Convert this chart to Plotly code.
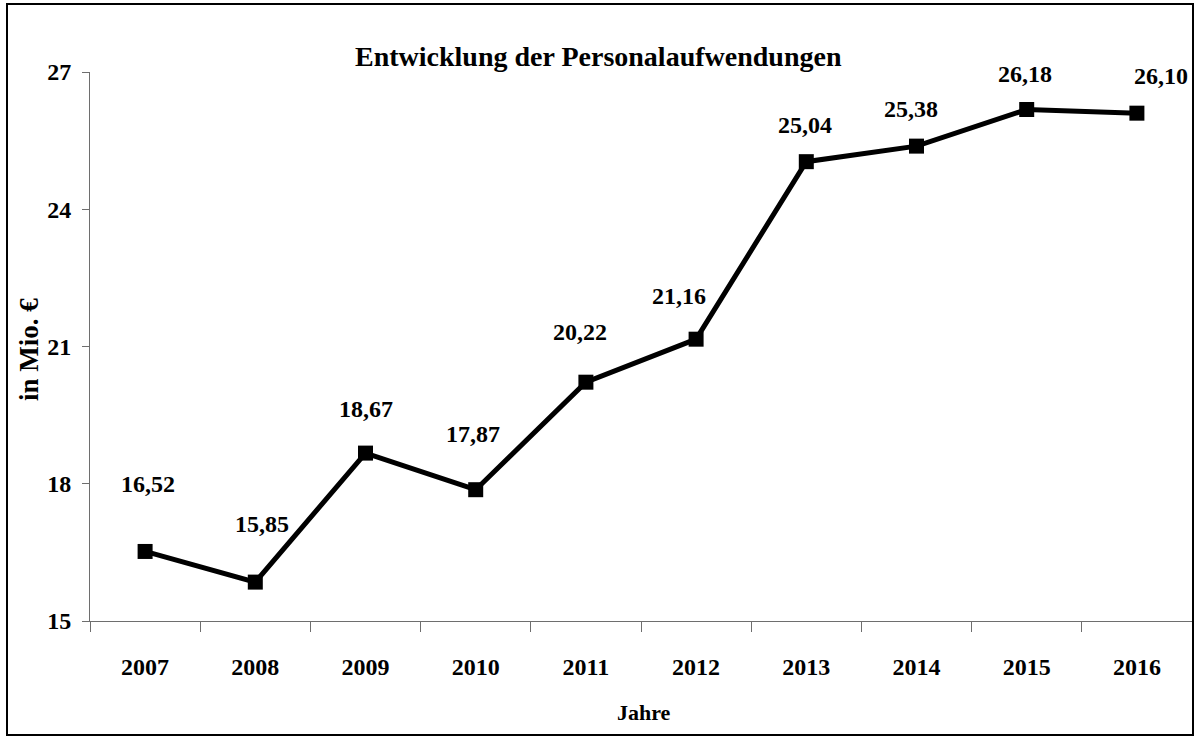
import plotly.graph_objects as go

years = ["2007", "2008", "2009", "2010", "2011", "2012", "2013", "2014", "2015", "2016"]
values = [16.52, 15.85, 18.67, 17.87, 20.22, 21.16, 25.04, 25.38, 26.18, 26.10]
y_ticks = [15, 18, 21, 24, 27]

# label pixel offsets (style only)
label_dx = [3, 7, 0, -3, -6, -17, -1, -6, -2, 24]
label_dy = [67, 58, 44, 56, 50, 43, 37, 37, 36, 37]

FONT = "Liberation Serif"
AXC = "#6e6e6e"

fig = go.Figure()
fig.add_trace(go.Scatter(
    x=years, y=values, mode="lines+markers",
    line=dict(color="black", width=5),
    marker=dict(symbol="square", size=15, color="black"),
    showlegend=False, hoverinfo="skip",
))

for i, (v, dx, dy) in enumerate(zip(values, label_dx, label_dy)):
    fig.add_annotation(
        x=i, y=v, xref="x", yref="y", showarrow=False,
        text=f"{v:.2f}".replace(".", ","),
        xshift=dx, yshift=dy,
        font=dict(family=FONT, size=24, color="black", weight="bold"),
    )

L, R, T, B = 90, 2, 72, 116
W, H = 1194, 737
pw, ph = W - L - R, H - T - B

def px(x):
    return (x - L) / pw

def py(y):
    return (H - B - y) / ph

# title
fig.add_annotation(
    x=px(598), y=py(57), xref="paper", yref="paper", showarrow=False,
    text="Entwicklung der Personalaufwendungen",
    font=dict(family=FONT, size=28, color="black", weight="bold"),
    xanchor="center", yanchor="middle",
)
# y title
fig.add_annotation(
    x=px(29), y=py(350), xref="paper", yref="paper", showarrow=False,
    text="in Mio. €", textangle=-90,
    font=dict(family=FONT, size=27, color="black", weight="bold"),
    xanchor="center", yanchor="middle",
)
# x title
fig.add_annotation(
    x=px(644), y=py(712), xref="paper", yref="paper", showarrow=False,
    text="Jahre",
    font=dict(family=FONT, size=22, color="black", weight="bold"),
    xanchor="center", yanchor="middle",
)

# outer border
fig.add_shape(
    type="rect", xref="paper", yref="paper",
    x0=px(7), x1=px(1193), y0=py(735), y1=py(4),
    line=dict(color="black", width=2), fillcolor="rgba(0,0,0,0)", layer="above",
)

fig.update_layout(
    width=W, height=H,
    margin=dict(l=L, r=R, t=T, b=B, pad=0),
    paper_bgcolor="white", plot_bgcolor="white",
    font=dict(family=FONT, color="black"),
    xaxis=dict(
        type="category", range=[-0.5, 9.5], tickson="boundaries",
        ticks="outside", ticklen=10, tickcolor=AXC, tickwidth=1,
        showline=True, linecolor=AXC, linewidth=1, showgrid=False,
        tickfont=dict(family=FONT, size=24, color="black", weight="bold"),
        ticklabelstandoff=24, fixedrange=True,
    ),
    yaxis=dict(
        range=[15, 27], tickvals=y_ticks, ticktext=[str(t) for t in y_ticks],
        ticks="outside", ticklen=7, tickcolor=AXC, tickwidth=1,
        showline=True, linecolor=AXC, linewidth=1, showgrid=False, zeroline=False,
        tickfont=dict(family=FONT, size=24, color="black", weight="bold"),
        ticklabelstandoff=6, fixedrange=True,
    ),
)

fig.write_html(
    "out.html",
    config={"displayModeBar": False},
    post_script="document.body.style.margin='0';document.body.style.padding='0';document.body.style.overflow='hidden';",
)
